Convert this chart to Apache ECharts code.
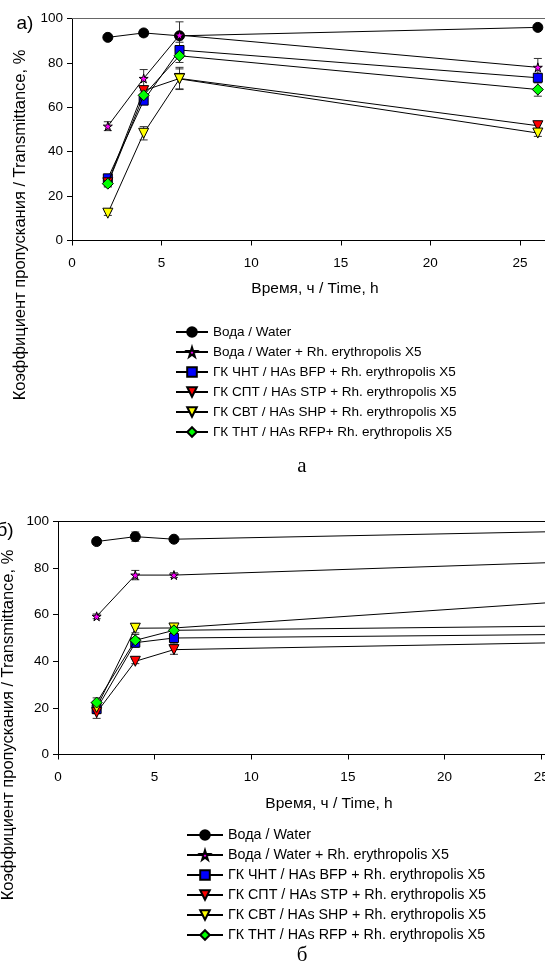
<!DOCTYPE html>
<html>
<head>
<meta charset="utf-8">
<script src="https://cdn.jsdelivr.net/npm/echarts@6/dist/echarts.min.js"></script>
<style>
html,body{margin:0;padding:0;background:#fff;}
#chart{width:545px;height:973px;}
</style>
</head>
<body>
<div id="chart"></div>
<script>
// время отбора проб, ч
var hours = [2, 4, 6, 26];

// а) коэффициент пропускания, %
var waterA    = [91.5, 93.5, 92.2, 96];
var waterRhA  = [51.5, 73, 92.5, 78];
var bfpA      = [28, 63, 85.8, 73.3];
var stpA      = [26, 67.5, 73, 51.7];
var shpA      = [12.3, 48.3, 72.8, 48.4];
var rfpA      = [25.6, 65.4, 83.2, 68];
// погрешности
var waterErrA   = [1, 1.5, 1, 1];
var waterRhErrA = [2, 4, 6, 4];
var bfpErrA     = [1.5, 1.5, 3.5, 2];
var stpErrA     = [1.5, 2, 5, 1.5];
var shpErrA     = [1, 3, 4.5, 1.5];
var rfpErrA     = [1.5, 2, 3, 3];

// б)
var waterB    = [91.4, 93.5, 92.4, 95.7];
var waterRhB  = [59.3, 77, 77, 82.5];
var bfpB      = [19.5, 48, 50, 51.5];
var stpB      = [18, 40, 45, 48];
var shpB      = [20.2, 54.2, 54.3, 65.5];
var rfpB      = [22.3, 49, 53.3, 55.1];
var waterErrB   = [1, 2, 1, 1];
var waterRhErrB = [1, 2, 1, 1];
var bfpErrB     = [2, 2, 2.5, 1];
var stpErrB     = [2.5, 1, 2, 1];
var shpErrB     = [2, 2, 1.5, 1];
var rfpErrB     = [2, 2.5, 1.5, 1];

var namesA = ['Вода / Water', 'Вода / Water + Rh. erythropolis X5', 'ГК ЧНТ / HAs BFP + Rh. erythropolis X5',
  'ГК СПТ / HAs STP + Rh. erythropolis X5', 'ГК СВТ / HAs SHP + Rh. erythropolis X5', 'ГК ТНТ / HAs RFP+ Rh. erythropolis X5'];
var namesB = ['Вода / Water', 'Вода / Water + Rh. erythropolis X5', 'ГК ЧНТ / HAs BFP + Rh. erythropolis X5',
  'ГК СПТ / HAs STP + Rh. erythropolis X5', 'ГК СВТ / HAs SHP + Rh. erythropolis X5', 'ГК ТНТ / HAs RFP + Rh. erythropolis X5'];

var starPath = 'path://M50,0 L61,35 L98,35 L68,57 L79,91 L50,70 L21,91 L32,57 L2,35 L39,35 Z';
var marks = [
  {symbol: 'circle', size: 10, color: '#000000', rotate: 0},
  {symbol: starPath, size: 9, color: '#ff00ff', rotate: 0},
  {symbol: 'rect', size: 9, color: '#0000ff', rotate: 0},
  {symbol: 'triangle', size: 10, color: '#ff0000', rotate: 180},
  {symbol: 'triangle', size: 10, color: '#ffff00', rotate: 180},
  {symbol: 'diamond', size: 11, color: '#00ff00', rotate: 0}
];

var FONT = 'Liberation Sans';

function pairs(ys){
  var out = [];
  for (var i = 0; i < hours.length; i++) out.push([hours[i], ys[i]]);
  return out;
}
function bars(ys, errs){
  var out = [];
  for (var i = 0; i < hours.length; i++) out.push([hours[i], ys[i] - errs[i], ys[i] + errs[i]]);
  return out;
}

function errorSeries(idx, ys, errs){
  return {
    type: 'custom',
    xAxisIndex: idx, yAxisIndex: idx,
    z: 1,
    silent: true,
    clip: false,
    data: bars(ys, errs),
    renderItem: function(params, api){
      var lo = api.coord([api.value(0), api.value(1)]);
      var hi = api.coord([api.value(0), api.value(2)]);
      var w = 4;
      var st = {stroke: '#333', lineWidth: 1};
      return {type: 'group', children: [
        {type: 'line', shape: {x1: lo[0], y1: lo[1], x2: hi[0], y2: hi[1]}, style: st},
        {type: 'line', shape: {x1: lo[0]-w, y1: lo[1], x2: lo[0]+w, y2: lo[1]}, style: st},
        {type: 'line', shape: {x1: hi[0]-w, y1: hi[1], x2: hi[0]+w, y2: hi[1]}, style: st}
      ]};
    }
  };
}

function lineSeries(idx, k, name, ys){
  var m = marks[k];
  return {
    name: name,
    type: 'line',
    xAxisIndex: idx, yAxisIndex: idx,
    z: 3 + k,
    data: pairs(ys),
    symbol: m.symbol,
    symbolSize: m.size,
    symbolRotate: m.rotate,
    showAllSymbol: true,
    clip: false,
    lineStyle: {color: '#000', width: 1},
    itemStyle: {color: m.color, borderColor: '#000', borderWidth: 1},
    emphasis: {disabled: true},
    animation: false
  };
}

var setA = [waterA, waterRhA, bfpA, stpA, shpA, rfpA];
var errA = [waterErrA, waterRhErrA, bfpErrA, stpErrA, shpErrA, rfpErrA];
var setB = [waterB, waterRhB, bfpB, stpB, shpB, rfpB];
var errB = [waterErrB, waterRhErrB, bfpErrB, stpErrB, shpErrB, rfpErrB];

var series = [];
for (var k = 0; k < 6; k++) {
  series.push(errorSeries(0, setA[k], errA[k]));
  series.push(errorSeries(1, setB[k], errB[k]));
}
for (var k = 0; k < 6; k++) series.push(lineSeries(0, k, namesA[k], setA[k]));
for (var k = 0; k < 6; k++) series.push(lineSeries(1, k, namesB[k], setB[k]));

function xAx(idx, maxX){
  return {
    type: 'value', gridIndex: idx, min: 0, max: maxX, interval: 5,
    splitLine: {show: false},
    axisLine: {lineStyle: {color: '#000', width: 1}},
    axisTick: {length: 5, lineStyle: {color: '#000'}},
    axisLabel: {color: '#000', fontSize: 13.5, fontFamily: FONT, margin: 16, showMaxLabel: false}
  };
}
// верхняя рамка
function topAx(idx, maxX, col){
  return {
    type: 'value', gridIndex: idx, position: 'top', min: 0, max: maxX,
    splitLine: {show: false},
    axisLine: {show: true, lineStyle: {color: col, width: 1}},
    axisTick: {show: false},
    axisLabel: {show: false}
  };
}
function yAx(idx){
  return {
    type: 'value', gridIndex: idx, min: 0, max: 100, interval: 20,
    splitLine: {show: false},
    axisLine: {show: true, lineStyle: {color: '#000', width: 1}},
    axisTick: {show: true, length: 5, lineStyle: {color: '#000'}},
    axisLabel: {color: '#000', fontSize: 13.5, fontFamily: FONT, margin: 9}
  };
}

function legendBox(top, left, w, data, size){
  return {
    orient: 'vertical', top: top, left: left,
    data: data,
    itemWidth: w, itemHeight: 12, itemGap: 6,
    selectedMode: false,
    textStyle: {color: '#000', fontSize: size, fontFamily: FONT, lineHeight: 14}
  };
}

function txt(x, y, s, size, family, rot){
  return {
    type: 'text', x: x, y: y, rotation: rot || 0,
    style: {text: s, fontSize: size, fontFamily: family, fill: '#000', align: 'center', verticalAlign: 'middle'}
  };
}

var chart = echarts.init(document.getElementById('chart'));
chart.setOption({
  backgroundColor: '#fff',
  animation: false,
  grid: [
    {left: 72, top: 18.5, right: 0, height: 222, outerBoundsMode: 'none', containLabel: false},
    {left: 58, top: 521.5, right: 0, height: 233, outerBoundsMode: 'none', containLabel: false}
  ],
  xAxis: [xAx(0, 26.4), xAx(1, 25.2), topAx(0, 26.4, '#666'), topAx(1, 25.2, '#000')],
  yAxis: [yAx(0), yAx(1)],
  legend: [
    legendBox(320, 170, 32, namesA, 13.5),
    legendBox(823, 181, 36, namesB, 14.3)
  ],
  graphic: [
    txt(25, 24, 'a)', 19, FONT),
    txt(5, 531, 'б)', 19, FONT),
    txt(20, 225, 'Коэффициент пропускания / Transmittance, %', 16.5, FONT, Math.PI / 2),
    txt(8, 725, 'Коэффициент пропускания / Transmittance, %', 16.5, FONT, Math.PI / 2),
    txt(315, 289, 'Время, ч / Time, h', 15.5, FONT),
    txt(329, 804, 'Время, ч / Time, h', 15.5, FONT),
    txt(302, 466, 'a', 21, 'Liberation Serif'),
    txt(302, 955, 'б', 21, 'Liberation Serif')
  ],
  series: series
});
</script>
</body>
</html>
